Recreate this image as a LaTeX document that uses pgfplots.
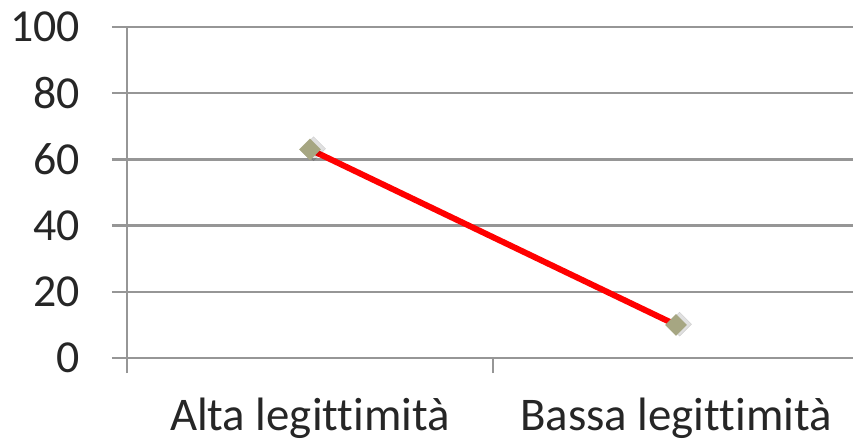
\documentclass[border=0pt]{standalone}
\usepackage{pgfplots}
\pgfplotsset{compat=1.18}
\usepackage{fontspec}
\setmainfont[Ligatures=NoCommon]{Carlito}
\definecolor{gridgray}{RGB}{150,150,150}
\definecolor{mk}{RGB}{166,166,130}
\definecolor{txt}{RGB}{38,38,38}

\begin{document}
\begin{tikzpicture}
\useasboundingbox (-127bp,-86bp) rectangle (726bp,358bp);
\begin{axis}[
  at={(0,0)}, anchor=south west,
  scale only axis, width=732bp, height=331bp,
  xmin=0.5, xmax=2.5, ymin=0, ymax=100,
  axis x line*=bottom, axis y line*=left,
  axis line style={gridgray, line width=2.5bp},
  ymajorgrids, grid style={gridgray, line width=2.5bp},
  ytick={0,20,...,100},
  xtick={0.5,1.5,2.5},
  x tick label as interval,
  xticklabels={Alta legittimità, Bassa legittimità},
  tick align=outside, major tick length=15bp,
  tick style={gridgray, line width=2.5bp},
  tick label style={text=txt, inner sep=0pt},
  yticklabel style={font=\fontsize{46}{55}\selectfont, anchor=east, xshift=-32bp},
  xticklabel style={font=\fontsize{47}{56}\selectfont, anchor=north, yshift=-25bp},
  /pgf/number format/assume math mode=true,
  clip=false,
]
\addplot[draw=none, mark=square*, mark size=8.5bp,
  mark options={rotate=45, fill=black, draw=none, opacity=0.12, xshift=3bp, yshift=-2bp}]
  coordinates {(1,63) (2,10)};
\addplot[red, line width=6bp, mark=square*, mark size=7.5bp,
  mark options={rotate=45, fill=mk, draw=mk, line width=0.2bp}]
  coordinates {(1,63) (2,10)};
\end{axis}
\end{tikzpicture}
\end{document}
